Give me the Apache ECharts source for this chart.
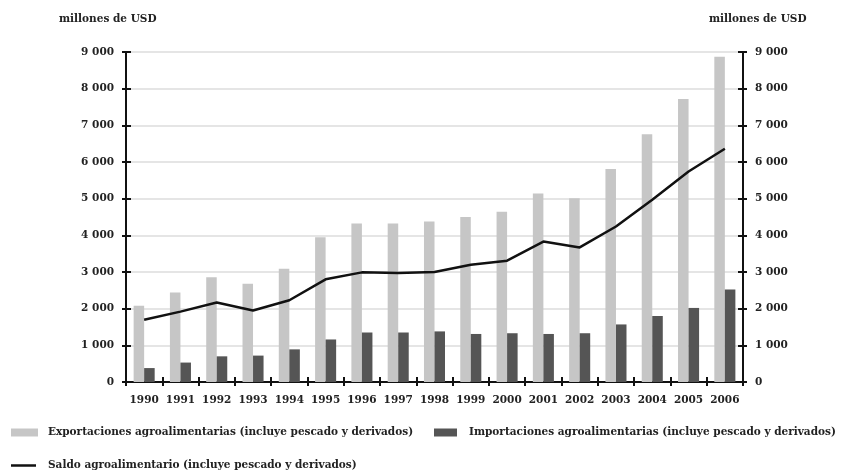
<!DOCTYPE html>
<html>
<head>
<meta charset="utf-8">
<script src="https://cdn.jsdelivr.net/npm/echarts@6/dist/echarts.min.js"></script>
<style>
  html, body { margin: 0; padding: 0; background: #fff; }
  #chart { width: 842px; height: 473px; }
</style>
</head>
<body>
<div id="chart"></div>
<script>
// Años
const years = ['1990','1991','1992','1993','1994','1995','1996','1997','1998',
               '1999','2000','2001','2002','2003','2004','2005','2006'];

// Exportaciones agroalimentarias (millones de USD)
const exportaciones = [2080, 2440, 2860, 2680, 3090, 3950, 4320, 4320, 4380,
                       4500, 4640, 5140, 5010, 5810, 6760, 7720, 8870];

// Importaciones agroalimentarias (millones de USD)
const importaciones = [380, 530, 700, 720, 890, 1160, 1350, 1350, 1380,
                       1310, 1330, 1310, 1330, 1570, 1800, 2020, 2520];

// Saldo agroalimentario (millones de USD)
const saldo = [1700, 1920, 2170, 1950, 2230, 2800, 2990, 2970, 3000,
               3200, 3310, 3830, 3670, 4240, 4970, 5740, 6360];

const yTicks = { min: 0, max: 9000, interval: 1000 };
const unitLabel = 'millones de USD';
const legendNames = [
  'Exportaciones agroalimentarias (incluye pescado y derivados)',
  'Importaciones agroalimentarias (incluye pescado y derivados)',
  'Saldo agroalimentario (incluye pescado y derivados)'
];

const FONT = 'DejaVu Serif';
const TXT = '#222';
const FS = 10.5;
const FW = 'bold';

const fmt = v => v >= 1000 ? String(Math.floor(v / 1000)) + ' ' + String(v % 1000).padStart(3, '0') : String(v);

const chart = echarts.init(document.getElementById('chart'), null, { renderer: 'canvas' });

function yAxisDef(position, withLabels, tickInside, showGrid) {
  return {
    type: 'value',
    position: position,
    min: yTicks.min, max: yTicks.max, interval: yTicks.interval,
    axisLine: { show: true, lineStyle: { color: '#111', width: 2 } },
    axisTick: { show: true, inside: tickInside, length: tickInside ? 5 : 4, lineStyle: { color: '#111', width: 2 } },
    axisLabel: {
      show: withLabels, margin: 12, formatter: fmt,
      fontFamily: FONT, fontSize: FS, fontWeight: FW, color: TXT
    },
    splitLine: { show: showGrid, lineStyle: { color: '#dcdcdc', width: 1.5 } }
  };
}

function xAxisDef(withLabels, tickInside) {
  return {
    type: 'category',
    data: years,
    position: 'bottom',
    boundaryGap: true,
    axisLine: { show: true, lineStyle: { color: '#111', width: 2 } },
    axisTick: { show: true, inside: tickInside, length: tickInside ? 5 : 4, lineStyle: { color: '#111', width: 2 } },
    axisLabel: {
      show: withLabels, margin: 13, interval: 0,
      fontFamily: FONT, fontSize: FS, fontWeight: FW, color: TXT
    },
    splitLine: { show: false }
  };
}

function legendText(pad) {
  return { fontFamily: FONT, fontSize: FS, fontWeight: FW, color: TXT, padding: [0, 0, 0, pad] };
}

chart.setOption({
  backgroundColor: '#ffffff',
  animation: false,
  grid: { left: 126, right: 99, top: 52, bottom: 91, containLabel: false },
  xAxis: [xAxisDef(true, false), xAxisDef(false, true)],
  yAxis: [
    yAxisDef('left', true, false, true),
    yAxisDef('right', true, false, false),
    yAxisDef('left', false, true, false),
    yAxisDef('right', false, true, false)
  ],
  legend: [
    { data: [{ name: legendNames[0], icon: 'rect' }], left: 11, top: 427, padding: 0, itemWidth: 27, itemHeight: 8, textStyle: legendText(5), selectedMode: false },
    { data: [{ name: legendNames[1], icon: 'rect' }], left: 434, top: 427, padding: 0, itemWidth: 23, itemHeight: 8, textStyle: legendText(7), selectedMode: false },
    { data: [{ name: legendNames[2], icon: 'rect' }], left: 11, top: 460, padding: 0, itemWidth: 25, itemHeight: 2.5, textStyle: legendText(7), selectedMode: false }
  ],
  graphic: [
    { type: 'text', left: 59, top: 14, style: { text: unitLabel, font: FW + ' ' + FS + 'px "' + FONT + '"', fill: TXT } },
    { type: 'text', left: 709, top: 14, style: { text: unitLabel, font: FW + ' ' + FS + 'px "' + FONT + '"', fill: TXT } }
  ],
  series: [
    {
      name: legendNames[0], type: 'bar', data: exportaciones,
      barWidth: '29%', barGap: '0%',
      itemStyle: { color: '#c6c6c6' }
    },
    {
      name: legendNames[1], type: 'bar', data: importaciones,
      barWidth: '29%', barGap: '0%',
      itemStyle: { color: '#555555' }
    },
    {
      name: legendNames[2], type: 'line', data: saldo,
      symbol: 'none', z: 5,
      lineStyle: { color: '#111', width: 2.5 },
      itemStyle: { color: '#111' }
    }
  ]
});
</script>
</body>
</html>
